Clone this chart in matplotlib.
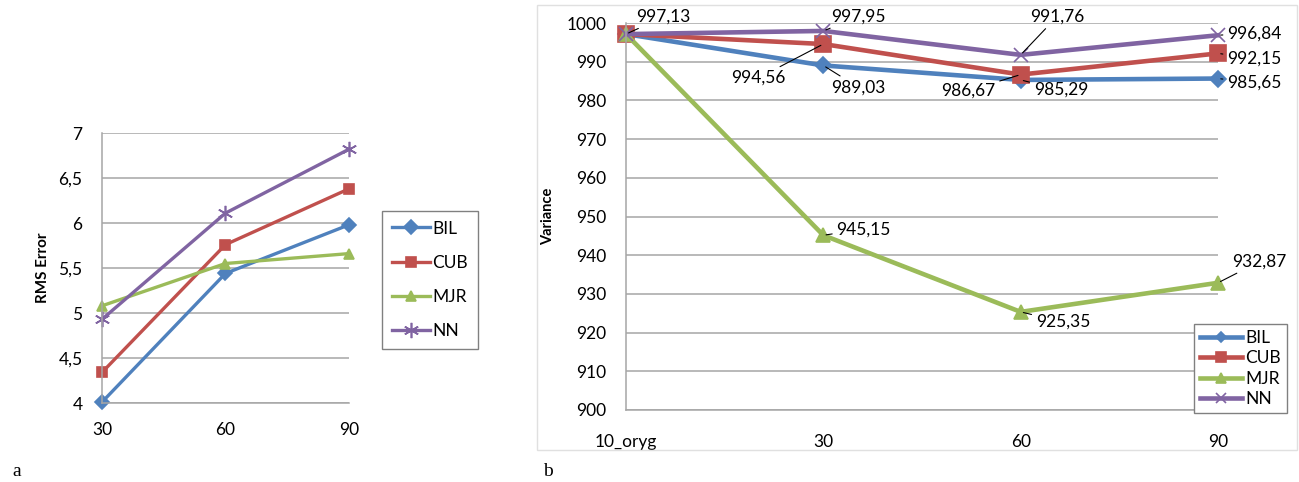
import matplotlib.pyplot as plt
from matplotlib.patches import Rectangle

plt.rcParams['font.family'] = ['Lato', 'DejaVu Sans']

# panel a: RMS error vs angle
angles = [30, 60, 90]
rms_bil = [4.01, 5.44, 5.98]
rms_cub = [4.34, 5.76, 6.38]
rms_mjr = [5.08, 5.55, 5.66]
rms_nn = [4.93, 6.11, 6.82]

# panel b: variance per sample
samples = ['10_oryg', '30', '60', '90']
var_bil = [997.13, 989.03, 985.29, 985.65]
var_cub = [997.13, 994.56, 986.67, 992.15]
var_mjr = [997.13, 945.15, 925.35, 932.87]
var_nn = [997.13, 997.95, 991.76, 996.84]

names = ['BIL', 'CUB', 'MJR', 'NN']
colors = ['#4F81BD', '#C0504D', '#9BBB59', '#8064A2']
grid_c = '#A6A6A6'


def fmt(v):
    return f'{v:.2f}'.replace('.', ',')


def style_axes(ax):
    ax.grid(axis='y', color=grid_c, lw=1.1)
    ax.set_axisbelow(True)
    for s in ['top', 'right']:
        ax.spines[s].set_visible(False)
    for s in ['left', 'bottom']:
        ax.spines[s].set_color(grid_c)
        ax.spines[s].set_linewidth(1.1)
    ax.tick_params(length=0, labelsize=12.5)
    ax.tick_params(axis='y', pad=14)


fig = plt.figure(figsize=(12.99, 4.82), dpi=100)

# ---- a ----
ax1 = fig.add_axes([102 / 1299, 79 / 482, 247 / 1299, 270 / 482])
left_markers = [('D', 7), ('s', 7), ('^', 7), ((6, 2, 0), 11)]
for vals, name, c, (m, ms) in zip([rms_bil, rms_cub, rms_mjr, rms_nn], names, colors, left_markers):
    ax1.plot(angles, vals, color=c, lw=2.4, marker=m, ms=ms, mec=c, mfc=c,
             mew=1.2, label=name, clip_on=False)
ax1.set_xlim(30, 90)
ax1.set_ylim(4, 7)
ax1.set_xticks(angles)
ax1.set_yticks([4, 4.5, 5, 5.5, 6, 6.5, 7])
ax1.set_yticklabels(['4', '4,5', '5', '5,5', '6', '6,5', '7'])
style_axes(ax1)
ax1.tick_params(axis='x', pad=14)
ax1.set_ylabel('RMS Error', fontsize=11, fontweight='bold', labelpad=6)
leg1 = ax1.legend(loc='upper left', bbox_to_anchor=(382 / 1299, 271 / 482),
                  bbox_transform=fig.transFigure, fontsize=12.5, labelspacing=1.05,
                  handlelength=2.2, handletextpad=0.15, borderpad=0.55,
                  borderaxespad=0, fancybox=False, framealpha=1)
leg1.get_frame().set_edgecolor('#808080')

# ---- b ----
fig.patches.append(Rectangle((537 / 1299, 32 / 482), 760 / 1299, 445 / 482,
                             transform=fig.transFigure, fill=False,
                             edgecolor='#E0E0E0', lw=1))
ax2 = fig.add_axes([626 / 1299, 72 / 482, 592 / 1299, 387 / 482])
x = range(len(samples))
right_markers = [('D', 8), ('s', 11), ('^', 10), ('x', 10)]
for vals, name, c, (m, ms) in zip([var_bil, var_cub, var_mjr, var_nn], names, colors, right_markers):
    ax2.plot(x, vals, color=c, lw=3.3, marker=m, ms=ms, mec=c, mfc=c,
             mew=1.2, label=name, clip_on=False)
ax2.set_xlim(0, 3)
ax2.set_ylim(900, 1000)
ax2.set_xticks(list(x))
ax2.set_xticklabels(samples)
ax2.set_yticks(range(900, 1001, 10))
style_axes(ax2)
ax2.tick_params(axis='x', pad=17)
ax2.set_ylabel('Variance', fontsize=10.5, fontweight='bold', labelpad=8)

# data labels: (series values, index, dx, dy, ha)
labels = [
    (var_nn, 0, 10, 17, 'left'),
    (var_nn, 1, 8, 14, 'left'),
    (var_cub, 1, -38, -34, 'right'),
    (var_bil, 1, 8, -22, 'left'),
    (var_nn, 2, 9, 38, 'left'),
    (var_cub, 2, -25, -16, 'right'),
    (var_bil, 2, 13, -10, 'left'),
    (var_nn, 3, 9, 2, 'left'),
    (var_cub, 3, 9, -5, 'left'),
    (var_bil, 3, 9, -4, 'left'),
    (var_mjr, 1, 13, 6, 'left'),
    (var_mjr, 2, 15, -10, 'left'),
    (var_mjr, 3, 14, 21, 'left'),
]
for vals, i, dx, dy, ha in labels:
    ax2.annotate(fmt(vals[i]), (i, vals[i]), xytext=(dx, dy),
                 textcoords='offset pixels', ha=ha, va='center', fontsize=12.5,
                 arrowprops=dict(arrowstyle='-', color='black', lw=0.8,
                                 shrinkA=1, shrinkB=2))

leg2 = ax2.legend(loc='lower left', bbox_to_anchor=(1194 / 1299, 69 / 482),
                  bbox_transform=fig.transFigure, fontsize=12.5, labelspacing=0.25,
                  handlelength=2.4, handletextpad=0.2, borderpad=0.35,
                  borderaxespad=0, markerscale=0.7, fancybox=False, framealpha=1)
leg2.get_frame().set_edgecolor('#808080')

fig.text(12 / 1299, 10 / 482, 'a', family='Liberation Serif', fontsize=14, va='center')
fig.text(543 / 1299, 10 / 482, 'b', family='Liberation Serif', fontsize=14, va='center')

fig.savefig('out.png', dpi=100)
